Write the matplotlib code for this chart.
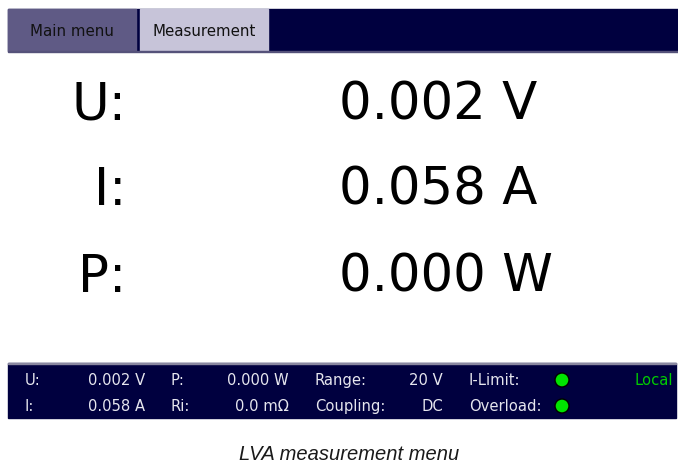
import matplotlib.pyplot as plt
from matplotlib.patches import Rectangle, Circle

# screen content
tabs = ["Main menu", "Measurement"]
big_labels = ["U:", "I:", "P:"]
big_values = ["0.002 V", "0.058 A", "0.000 W"]

# status bar, two rows
st_names1 = ["U:", "P:", "Range:", "I-Limit:"]
st_vals1 = ["0.002 V", "0.000 W", "20 V"]
st_names2 = ["I:", "Ri:", "Coupling:", "Overload:"]
st_vals2 = ["0.058 A", "0.0 m\u03a9", "DC"]
mode = "Local"
caption = "LVA measurement menu"

navy = "#00003f"

fig = plt.figure(figsize=(6.78, 4.64), dpi=100)
ax = fig.add_axes([0, 0, 1, 1])
ax.set_xlim(0, 678)
ax.set_ylim(464, 0)
ax.axis("off")

# top bar
ax.add_patch(Rectangle((8, 10), 670, 42, color=navy))
ax.add_patch(Rectangle((8, 10), 128, 42, color="#5f5a85"))
ax.add_patch(Rectangle((140, 10), 128, 42, color="#c7c4d9"))
ax.add_patch(Rectangle((8, 51.5), 670, 1.5, color="#55527a"))
ax.text(72, 31, tabs[0], ha="center", va="center", fontsize=10.8, color="#111111")
ax.text(204, 31, tabs[1], ha="center", va="center", fontsize=10.8, color="#111111")

# big readings
baselines = [120, 205, 292]
for lab, val, yb in zip(big_labels, big_values, baselines):
    ax.text(126, yb, lab, ha="right", va="baseline", fontsize=37, color="black")
    ax.text(339, yb, val, ha="left", va="baseline", fontsize=37, color="black")

# status bar
ax.add_patch(Rectangle((8, 364), 668, 55, color=navy))
ax.add_patch(Rectangle((8, 363.5), 668, 1, color="#8a88a0"))
name_x = [25, 170, 315, 469]
val_r = [145, 289, 443]
fg = "#e6e6ee"
for yc, names, vals in [(381, st_names1, st_vals1), (407, st_names2, st_vals2)]:
    for x, n in zip(name_x, names):
        ax.text(x, yc, n, ha="left", va="center", fontsize=10.6, color=fg)
    for x, v in zip(val_r, vals):
        ax.text(x, yc, v, ha="right", va="center", fontsize=10.6, color=fg)
    ax.add_patch(Circle((562, yc), 7, facecolor="#00e400", edgecolor="black", lw=1))
ax.text(673, 381, mode, ha="right", va="center", fontsize=10.6, color="#00cc00")

ax.text(349, 460, caption, ha="center", va="baseline", fontsize=14.5, style="italic",
        family="Liberation Sans", color="#1a1a1a")

fig.savefig("out.png", dpi=100)
